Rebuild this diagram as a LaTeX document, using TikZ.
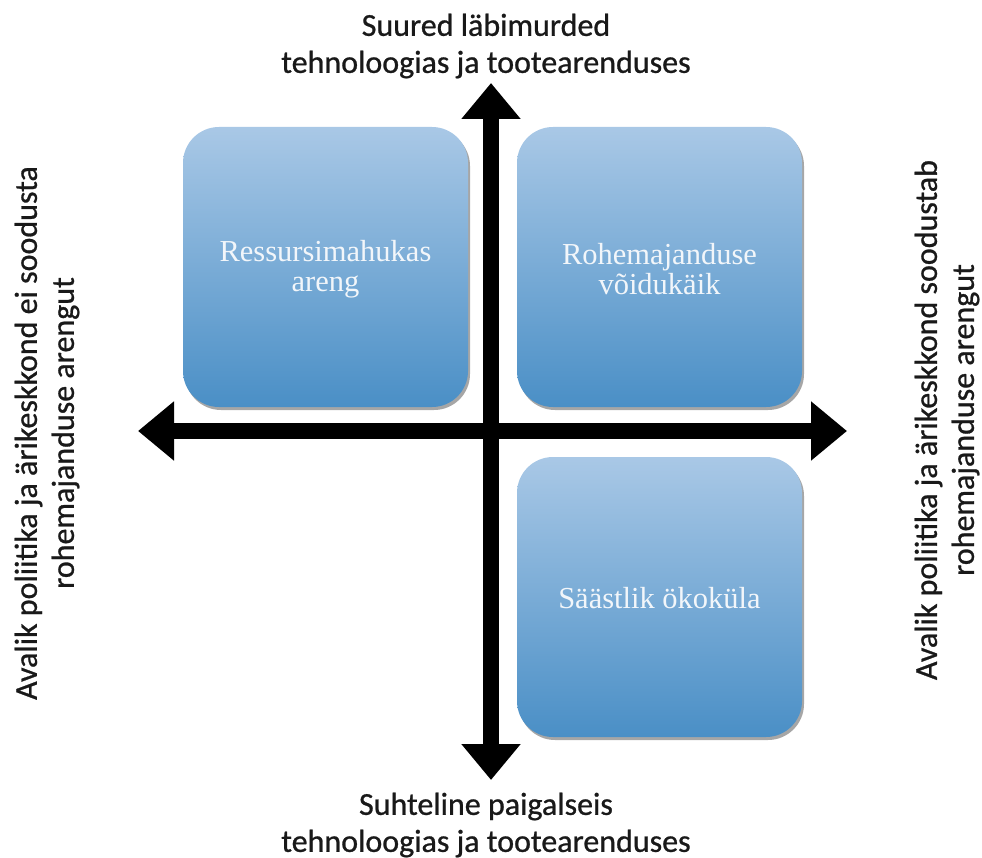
\documentclass[tikz,border=0pt]{standalone}
\usepackage{fontspec}
\setmainfont{Carlito}[FakeBold=0.8]
\newfontfamily\labfont{Carlito}[FakeBold=0.8]
\newfontfamily\boxfont{Liberation Serif}
\usetikzlibrary{arrows.meta,shadows}
\definecolor{boxtop}{HTML}{A9C8E6}
\definecolor{boxbot}{HTML}{4A8FC6}
\definecolor{boxtext}{HTML}{F2F6FA}
\tikzset{
  quad/.style={rounded corners=36pt, top color=boxtop, bottom color=boxbot,
    drop shadow={shadow xshift=2pt, shadow yshift=-3pt, fill=black, opacity=0.35}},
  quadtext/.style={text=boxtext, font=\boxfont\fontsize{30.5}{30}\selectfont, align=center, inner sep=0pt},
  axis/.style={line width=16pt, {Triangle[width=57pt,length=36pt]}-{Triangle[width=57pt,length=36pt]}},
  axlabel/.style={font=\labfont\fontsize{32}{37}\selectfont, align=center, text=black!90, inner sep=0pt}
}
\begin{document}
\begin{tikzpicture}[x=1pt,y=-1pt]
\useasboundingbox (0,0) rectangle (982,858);
% boxes
\path[quad] (183,127) rectangle (468,407);
\path[quad] (517,127) rectangle (802,407);
\path[quad] (517,457) rectangle (802,737);
\node[quadtext] (q1) at (325.5,269) {Ressursimahukas\\areng};
\node[quadtext] (q2) at (659.5,269) {Rohemajanduse\\võidukäik};
\node[quadtext] (q3) at (659.5,598) {Säästlik ökoküla};
% axes
\coordinate (top) at (491,83);
\coordinate (bot) at (491,780);
\coordinate (lft) at (138,431);
\coordinate (rgt) at (847,431);
\draw[axis] (top) -- (bot);
\draw[axis] (lft) -- (rgt);
% labels
\node[axlabel] (lt) at (486,46) {Suured läbimurded\\tehnoloogias ja tootearenduses};
\node[axlabel] (lb) at (486,825) {Suhteline paigalseis\\tehnoloogias ja tootearenduses};
\node[axlabel, rotate=90] (ll) at (47,433) {Avalik poliitika ja ärikeskkond ei soodusta\\rohemajanduse arengut};
\node[axlabel, rotate=90] (lr) at (947,420) {Avalik poliitika ja ärikeskkond soodustab\\rohemajanduse arengut};
\end{tikzpicture}
\end{document}
